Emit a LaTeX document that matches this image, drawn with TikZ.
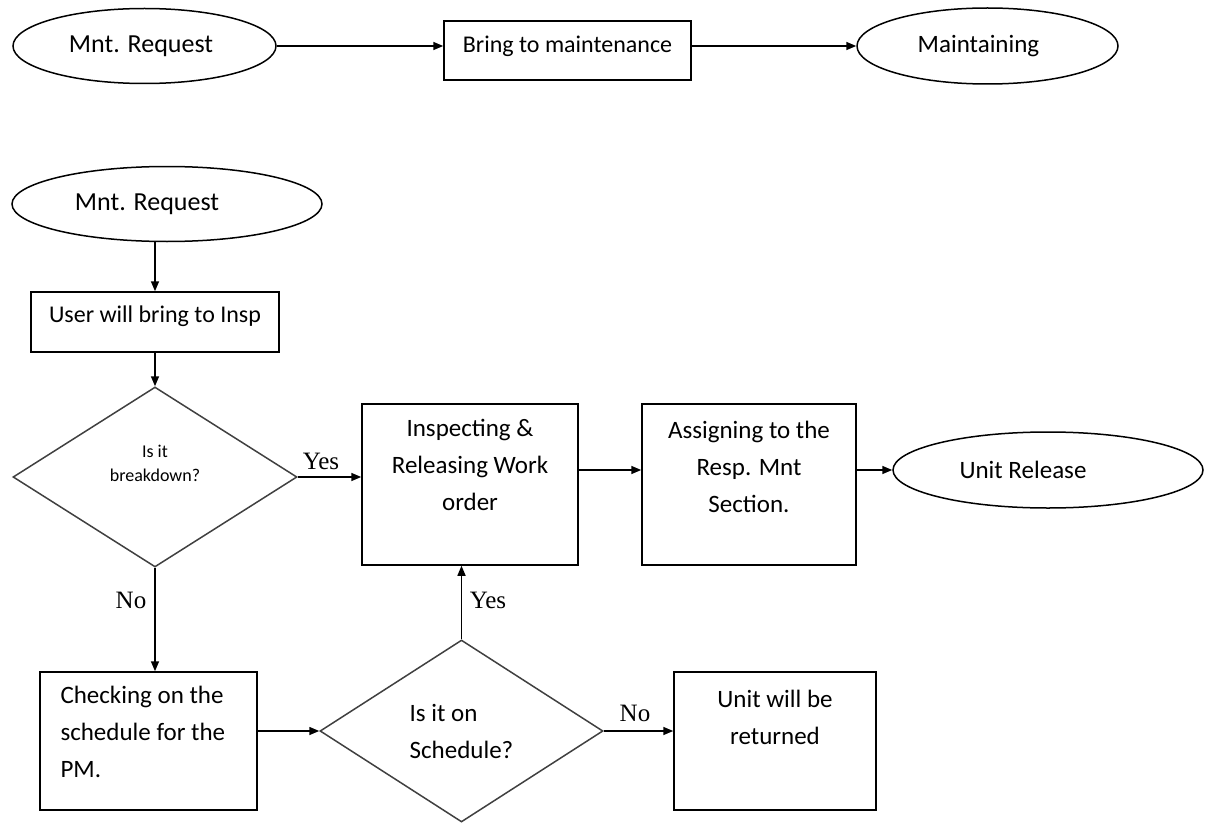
\documentclass[tikz,border=0pt]{standalone}
\usepackage{fontspec}
\setmainfont{Carlito}
\newfontfamily\yesnofont{Liberation Serif}
\usetikzlibrary{shapes.geometric,arrows.meta}

\begin{document}
\begin{tikzpicture}[x=1pt, y=-1pt, line width=1.5pt,
  every node/.style={font=\fontsize{25}{37}\selectfont, inner sep=0pt},
  terminal/.style={draw, ellipse},
  procbox/.style={draw, rectangle, align=center},
  decision/.style={draw=black!75, diamond, align=center},
  answer/.style={font=\yesnofont\fontsize{25}{25}\selectfont},
  flow/.style={-{Triangle[length=10pt,width=8pt]}}]

  \useasboundingbox (0,0) rectangle (1212,824);

  % --- SHORT ROUTE (TOP ROW) ---
  \node[terminal, font=\fontsize{26}{37}\selectfont, minimum width=263pt, minimum height=75pt] (reqA) at (144.5,46)
    {Mnt. Request\hspace*{7pt}};
  \node[procbox, font=\fontsize{24}{37}\selectfont, minimum width=247pt, minimum height=59pt, text depth=12pt] (bring) at (567.5,50.5)
    {Bring to maintenance};
  \node[terminal, minimum width=261pt, minimum height=76pt] (maint) at (987.5,46)
    {Maintaining\hspace*{18pt}};

  \draw[flow] (reqA.east) -- (reqA.east -| bring.west);
  \draw[flow] (bring.east |- maint) -- (maint.west);

  % --- FULL ROUTE ---
  % Request and inspection
  \node[terminal, font=\fontsize{26}{37}\selectfont, minimum width=310pt, minimum height=75pt] (reqB) at (167,204)
    {Mnt. Request\hspace*{40pt}};
  \node[procbox, font=\fontsize{24}{37}\selectfont, minimum width=248pt, minimum height=60pt, text depth=15pt] (insp) at (155,322)
    {User will bring to Insp};
  \node[decision, minimum width=284pt, minimum height=180pt, text depth=28pt,
    font=\fontsize{18}{24}\selectfont] (brk) at (155,477) {Is it\\breakdown?};

  % Work order and release
  \node[procbox, minimum width=216pt, minimum height=161pt, text depth=40pt] (work) at (470,484.5)
    {Inspecting \&\\Releasing Work\\order};
  \node[procbox, minimum width=214pt, minimum height=161pt, text depth=36pt] (assign) at (749,484.5)
    {Assigning to the\\Resp. Mnt\\Section.};
  \node[terminal, minimum width=310pt, minimum height=76pt] (unitrel) at (1048,470)
    {Unit Release\hspace*{50pt}};

  % Preventive maintenance check
  \node[procbox, align=flush left, text width=176pt, minimum width=217pt, minimum height=138pt, text depth=93pt]
    (check) at (148.5,741) {Checking on the\\schedule for the\\PM.};
  \node[decision, align=left, minimum width=283pt, minimum height=182pt] (sched) at (461.5,731)
    {Is it on\\Schedule?};
  \node[procbox, minimum width=202pt, minimum height=138pt, text depth=47pt] (ret) at (775,741)
    {Unit will be\\returned};

  % Connectors
  \draw[flow] (insp.north |- reqB.south) -- (insp.north);
  \draw[flow] (insp.south) -- (brk.north);
  \draw[flow] (brk.east) -- (brk.east -| work.west);
  \draw[flow] (brk.south) -- (brk.south |- check.north);
  \draw[flow] (work.east |- unitrel) -- (assign.west |- unitrel);
  \draw[flow] (assign.east |- unitrel) -- (unitrel.west);
  \draw[flow] (check.east |- sched) -- (sched.west);
  \draw[flow] (sched.north) -- (sched.north |- work.south);
  \draw[flow] (sched.east) -- (sched.east -| ret.west);

  % Answer labels
  \node[answer] (yesA) at (321,461) {Yes};
  \node[answer] (noA) at (131,600) {No};
  \node[answer] (yesB) at (488,600) {Yes};
  \node[answer] (noB) at (635,713) {No};

\end{tikzpicture}
\end{document}
